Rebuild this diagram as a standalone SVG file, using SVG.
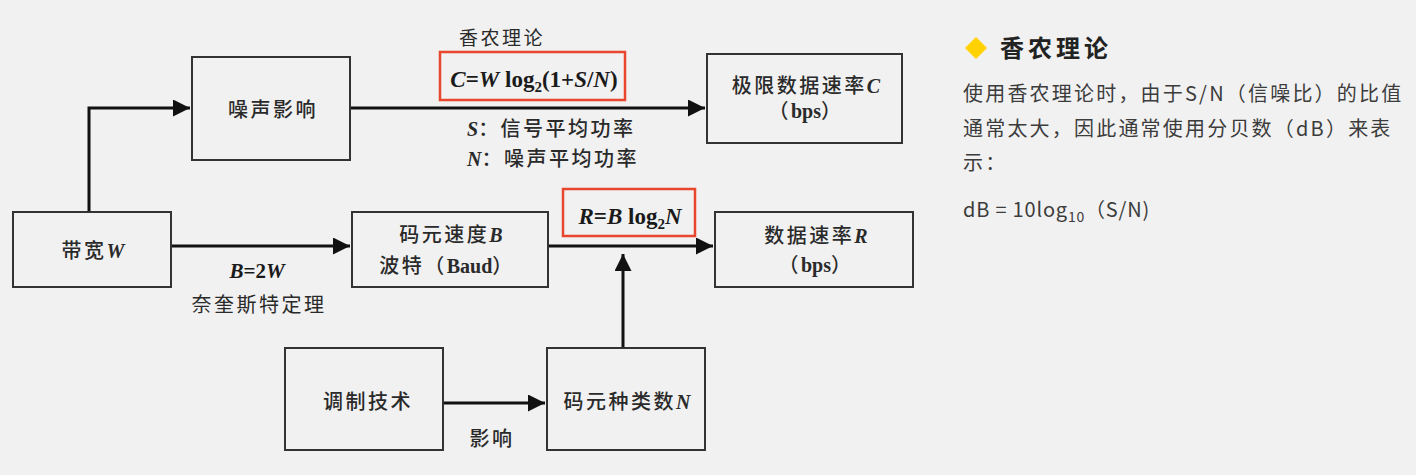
<svg xmlns="http://www.w3.org/2000/svg" width="1416" height="475" viewBox="0 0 1416 475">
<defs>
<marker id="arr" markerUnits="userSpaceOnUse" markerWidth="18" markerHeight="18" refX="17" refY="8.5" orient="auto">
<path d="M0,0 L17,8.5 L0,17 z" fill="#111"/>
</marker>
<style>
.box{fill:none;stroke:#333;stroke-width:2}
.red{fill:none;stroke:#e8472e;stroke-width:2.5}
.con{fill:none;stroke:#111;stroke-width:3}
.t{font-family:"Liberation Serif","Noto Sans CJK SC",serif;font-size:20px;font-weight:500;fill:#2a2a2a;letter-spacing:2.5px;text-anchor:middle}
.ts{text-anchor:start}
.v{font-weight:bold;font-style:italic;letter-spacing:0}
.b{font-weight:bold;letter-spacing:0}
.f{font-family:"Liberation Serif",serif;font-size:23px;font-weight:bold;fill:#1a1a1a;text-anchor:middle}
.p{font-family:"Noto Sans CJK SC",sans-serif;font-size:20px;fill:#3c3c3c;letter-spacing:2.2px}
</style>
</defs>
<rect width="1416" height="475" fill="#f1f1f1"/>

<g id="connectors">
<path class="con" d="M89,212 V108 H190" marker-end="url(#arr)"/>
<path class="con" d="M350,108 H705" marker-end="url(#arr)"/>
<path class="con" d="M171,246 H350" marker-end="url(#arr)"/>
<path class="con" d="M548,246 H713" marker-end="url(#arr)"/>
<path class="con" d="M623,348 V254" marker-end="url(#arr)"/>
<path class="con" d="M443,403 H545" marker-end="url(#arr)"/>
</g>

<g id="node-noise">
<rect class="box" x="192" y="57" width="158" height="103"/>
<text class="t" x="273" y="117">噪声影响</text>
</g>

<g id="node-limit">
<rect class="box" x="707" y="54" width="195" height="89"/>
<text class="t" x="806" y="93">极限数据速率<tspan class="v">C</tspan></text>
<text class="t" x="806" y="118">（<tspan class="b">bps</tspan>）</text>
</g>

<g id="label-shannon">
<text class="t" x="502" y="45" style="font-size:19px;font-weight:400">香农理论</text>
<rect class="red" x="440" y="52" width="185" height="48"/>
<text class="f" x="534" y="87"><tspan font-style="italic">C</tspan>=<tspan font-style="italic">W</tspan> log<tspan font-size="15" dy="5">2</tspan><tspan dy="-5">(1+</tspan><tspan font-style="italic">S</tspan>/<tspan font-style="italic">N</tspan>)</text>
<text class="t ts" x="467" y="136"><tspan class="v">S</tspan>：信号平均功率</text>
<text class="t ts" x="467" y="166"><tspan class="v">N</tspan>：噪声平均功率</text>
</g>

<g id="node-bandwidth">
<rect class="box" x="13" y="212" width="158" height="75"/>
<text class="t" x="93" y="258">带宽<tspan class="v">W</tspan></text>
</g>

<g id="label-nyquist">
<text class="f" x="257" y="278" style="font-size:21px"><tspan font-style="italic">B</tspan>=2<tspan font-style="italic">W</tspan></text>
<text class="t" x="259" y="312" style="font-weight:400">奈奎斯特定理</text>
</g>

<g id="node-baud">
<rect class="box" x="352" y="212" width="196" height="75"/>
<text class="t" x="451" y="242">码元速度<tspan class="v">B</tspan></text>
<text class="t" x="447" y="273">波特（<tspan class="b">Baud</tspan>）</text>
</g>

<g id="label-rate">
<rect class="red" x="563" y="189" width="132" height="47"/>
<text class="f" x="630" y="224"><tspan font-style="italic">R</tspan>=<tspan font-style="italic">B</tspan> log<tspan font-size="15" dy="5">2</tspan><tspan dy="-5" font-style="italic">N</tspan></text>
</g>

<g id="node-datarate">
<rect class="box" x="715" y="212" width="198" height="75"/>
<text class="t" x="816" y="243">数据速率<tspan class="v">R</tspan></text>
<text class="t" x="816" y="272">（<tspan class="b">bps</tspan>）</text>
</g>

<g id="node-modulation">
<rect class="box" x="285" y="348" width="158" height="102"/>
<text class="t" x="368" y="409">调制技术</text>
</g>

<g id="label-affect">
<text class="t" x="492" y="446">影响</text>
</g>

<g id="node-symbols">
<rect class="box" x="547" y="348" width="158" height="102"/>
<text class="t" x="627" y="409">码元种类数<tspan class="v">N</tspan></text>
</g>

<g id="panel">
<path d="M976,37 L987,48 L976,59 L965,48 z" fill="#ffd200"/>
<text x="1000" y="57" style="font-family:'Noto Sans CJK SC',sans-serif;font-size:24px;font-weight:bold;fill:#222;letter-spacing:4px">香农理论</text>
<text class="p" x="963" y="101">使用香农理论时，由于S/N（信噪比）的比值</text>
<text class="p" x="963" y="136">通常太大，因此通常使用分贝数（dB）来表</text>
<text class="p" x="963" y="170">示：</text>
<text class="p" x="963" y="217" style="letter-spacing:0.8px">dB = 10log<tspan font-size="14" dy="5">10</tspan><tspan dy="-5">（S/N)</tspan></text>
</g>
</svg>
